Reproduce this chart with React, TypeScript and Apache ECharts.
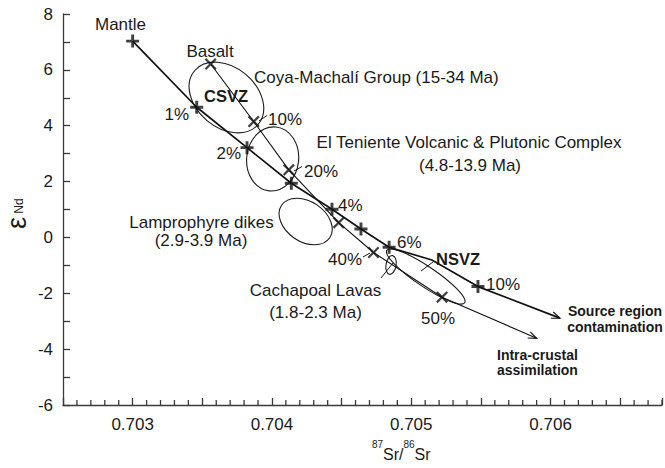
import React, { useEffect, useRef } from 'react';
import * as echarts from 'echarts';

const FONT = "'Liberation Sans', Arial, Helvetica, sans-serif";
const INK = '#1a1a1a';
const AXIS = '#3a3a3a';

// ---- data (87Sr/86Sr vs εNd) ----
// Source region contamination curve (Mantle -> ...)
const SOURCE_X = [0.703, 0.70346, 0.703821, 0.704139, 0.704431, 0.704639, 0.704841, 0.705148, 0.705479, 0.706067];
const SOURCE_Y = [7.03, 4.66, 3.215, 1.94, 1.01, 0.3, -0.35, -0.81, -1.76, -2.89];
const SOURCE_MARKED = [1, 1, 1, 1, 1, 1, 1, 0, 1, 0];

// Intra-crustal assimilation curve (Basalt -> ...)
const INTRA_X = [0.70356, 0.703869, 0.704121, 0.704479, 0.704729, 0.705221, 0.7059];
const INTRA_Y = [6.21, 4.15, 2.42, 0.53, -0.54, -2.14, -3.61];
const INTRA_MARKED = [1, 1, 1, 1, 1, 1, 0];

// Ellipses: centre (Sr, εNd), semi-axes in εNd units, tilt in degrees
const ELLIPSE_NAMES = ['Coya-Machalí', 'El Teniente', 'Lamprophyre', 'Cachapoal', 'NSVZ'];
const ELLIPSE_CX = [0.703673, 0.704005, 0.704242, 0.704855, 0.705104];
const ELLIPSE_CY = [5.01, 2.81, 0.57, -0.985, -1.4];
const ELLIPSE_RX = [1.49, 0.93, 1.04, 0.18, 1.68];
const ELLIPSE_RY = [1.08, 1.15, 0.72, 0.34, 0.36];
const ELLIPSE_TILT = [-40, -6, -34, -10, -34];

// Axis extents and ticks
const X_MIN = 0.7025;
const X_MAX = 0.7068;
const X_MAJOR_STEP = 0.0005;
const X_MINOR_STEP = 0.0001;
const Y_MIN = -6;
const Y_MAX = 8;

const PLUS = 'path://M-1.35,-6H1.35V-1.35H6V1.35H1.35V6H-1.35V1.35H-6V-1.35H-1.35Z';
const CROSS = 'path://M-6,-4.4L-4.4,-6L0,-1.6L4.4,-6L6,-4.4L1.6,0L6,4.4L4.4,6L0,1.6L-4.4,6L-6,4.4L-1.6,0Z';

function txt(text: string, x: number, y: number, align = 'left', opts: any = {}) {
  return {
    type: 'text',
    x,
    y,
    rotation: opts.rotation || 0,
    silent: true,
    style: {
      text,
      fill: INK,
      fontFamily: FONT,
      fontSize: opts.fontSize || 17,
      fontWeight: opts.bold ? 'bold' : 'normal',
      align,
      verticalAlign: 'middle',
    },
  };
}

function seg(x1: number, y1: number, x2: number, y2: number) {
  return {
    type: 'line',
    silent: true,
    shape: { x1, y1, x2, y2 },
    style: { stroke: INK, lineWidth: 1 },
  };
}

export default function App() {
  const ref = useRef<HTMLDivElement>(null);

  useEffect(() => {
    const chart = echarts.init(ref.current!, null, { renderer: 'svg' });

    const sourceLine = SOURCE_X.map((x, i) => [x, SOURCE_Y[i]]);
    const intraLine = INTRA_X.map((x, i) => [x, INTRA_Y[i]]);
    const sourceMarks = sourceLine.filter((_, i) => SOURCE_MARKED[i]);
    const intraMarks = intraLine.filter((_, i) => INTRA_MARKED[i]);
    const ellipses = ELLIPSE_NAMES.map((n, i) => [
      ELLIPSE_CX[i], ELLIPSE_CY[i], ELLIPSE_RX[i], ELLIPSE_RY[i], ELLIPSE_TILT[i],
    ]);
    const ns = sourceLine.length;
    const ni = intraLine.length;
    const arrows = [
      [...sourceLine[ns - 2], ...sourceLine[ns - 1]],
      [...intraLine[ni - 2], ...intraLine[ni - 1]],
    ];

    // minor tick positions along the x axis (between the 0.0005 ticks)
    const minorTicks: number[][] = [];
    const nMinor = Math.round((X_MAX - X_MIN) / X_MINOR_STEP);
    const perMajor = Math.round(X_MAJOR_STEP / X_MINOR_STEP);
    for (let i = 1; i <= nMinor; i++) {
      if (i % perMajor !== 0) {
        minorTicks.push([Math.round((X_MIN + i * X_MINOR_STEP) * 1e5) / 1e5, Y_MIN]);
      }
    }

    const axisLineStyle = { color: AXIS, width: 1.3 };

    const option: any = {
      animation: false,
      backgroundColor: '#ffffff',
      grid: { left: 63, right: 0, top: 14, bottom: 63 },
      xAxis: {
        type: 'value',
        min: X_MIN,
        max: X_MAX,
        interval: X_MAJOR_STEP,
        position: 'bottom',
        axisLine: { show: true, onZero: false, lineStyle: axisLineStyle },
        axisTick: { show: true, inside: true, length: 7, lineStyle: axisLineStyle },
        axisLabel: {
          fontSize: 17,
          fontFamily: FONT,
          color: INK,
          margin: 11,
          formatter: (v: number) => {
            const k = Math.round(v * 10000);
            return k % 10 === 0 ? (k / 10000).toFixed(3) : '';
          },
        },
        splitLine: { show: false },
      },
      yAxis: {
        type: 'value',
        min: Y_MIN,
        max: Y_MAX,
        interval: 1,
        axisLine: { show: true, onZero: false, lineStyle: axisLineStyle },
        axisTick: { show: true, inside: true, length: 7, lineStyle: axisLineStyle },
        axisLabel: {
          fontSize: 17,
          fontFamily: FONT,
          color: INK,
          margin: 10,
          formatter: (v: number) => {
            const k = Math.round(v);
            return k % 2 === 0 ? String(k) : '';
          },
        },
        splitLine: { show: false },
      },
      series: [
        {
          type: 'scatter',
          name: 'minor ticks',
          silent: true,
          clip: false,
          data: minorTicks,
          symbol: 'rect',
          symbolSize: [1.3, 5],
          symbolOffset: [0, -2.5],
          itemStyle: { color: AXIS, opacity: 1 },
          z: 6,
        },
        {
          type: 'custom',
          name: 'ellipses',
          silent: true,
          clip: false,
          data: ellipses,
          encode: { x: 0, y: 1 },
          renderItem: (params: any, api: any) => {
            const c = api.coord([api.value(0), api.value(1)]);
            const rx = Math.abs(api.size([0, api.value(2)])[1]);
            const ry = Math.abs(api.size([0, api.value(3)])[1]);
            return {
              type: 'ellipse',
              x: c[0],
              y: c[1],
              rotation: (api.value(4) * Math.PI) / 180,
              shape: { cx: 0, cy: 0, rx, ry },
              style: { fill: 'none', stroke: INK, lineWidth: 1.1 },
            };
          },
          z: 2,
        },
        {
          type: 'line',
          name: 'Source region contamination',
          data: sourceLine,
          symbol: 'none',
          silent: true,
          lineStyle: { color: '#111', width: 1.7 },
          z: 3,
        },
        {
          type: 'line',
          name: 'Intra-crustal assimilation',
          data: intraLine,
          symbol: 'none',
          silent: true,
          lineStyle: { color: '#111', width: 1.1 },
          z: 3,
        },
        {
          type: 'custom',
          name: 'arrows',
          silent: true,
          clip: false,
          data: arrows,
          encode: { x: [0, 2], y: [1, 3] },
          renderItem: (params: any, api: any) => {
            const p1 = api.coord([api.value(0), api.value(1)]);
            const p2 = api.coord([api.value(2), api.value(3)]);
            const a = Math.atan2(p2[1] - p1[1], p2[0] - p1[0]);
            const L = 9;
            const s = 0.38;
            return {
              type: 'polyline',
              shape: {
                points: [
                  [p2[0] - L * Math.cos(a - s), p2[1] - L * Math.sin(a - s)],
                  [p2[0], p2[1]],
                  [p2[0] - L * Math.cos(a + s), p2[1] - L * Math.sin(a + s)],
                ],
              },
              style: { fill: 'none', stroke: '#111', lineWidth: 1.2 },
            };
          },
          z: 4,
        },
        {
          type: 'scatter',
          name: 'source marks',
          data: sourceMarks,
          symbol: PLUS,
          symbolSize: 13,
          silent: true,
          itemStyle: { color: '#111' },
          z: 5,
        },
        {
          type: 'scatter',
          name: 'intra marks',
          data: intraMarks,
          symbol: CROSS,
          symbolSize: 12,
          silent: true,
          itemStyle: { color: '#111' },
          z: 5,
        },
      ],
      graphic: [
        txt('Mantle', 95, 24),
        txt('Basalt', 210, 51, 'center'),
        txt('Coya-Machalí Group (15-34 Ma)', 254, 77),
        txt('CSVZ', 226, 96, 'center', { bold: true, fontSize: 16.5 }),
        txt('1%', 189, 114.5, 'right'),
        txt('10%', 268, 119.5),
        txt('2%', 241, 153.5, 'right'),
        txt('20%', 304, 171.5),
        txt('El Teniente Volcanic & Plutonic Complex', 469, 142.5, 'center'),
        txt('(4.8-13.9 Ma)', 470, 165, 'center'),
        txt('4%', 338, 205.5),
        txt('Lamprophyre dikes', 201.5, 222, 'center'),
        txt('(2.9-3.9 Ma)', 201, 240.5, 'center'),
        txt('6%', 397, 242),
        txt('NSVZ', 458, 258.5, 'center', { bold: true, fontSize: 16.5 }),
        txt('40%', 362, 259.5, 'right'),
        txt('10%', 486, 284.5),
        txt('Cachapoal Lavas', 315.5, 290.5, 'center'),
        txt('(1.8-2.3 Ma)', 315.5, 312.5, 'center'),
        txt('50%', 438, 318.5, 'center'),
        txt('Source region', 615, 310.5, 'center', { bold: true, fontSize: 14 }),
        txt('contamination', 615, 327, 'center', { bold: true, fontSize: 14 }),
        txt('Intra-crustal', 497, 354.5, 'left', { bold: true, fontSize: 14 }),
        txt('assimilation', 497, 369.5, 'left', { bold: true, fontSize: 14 }),
        seg(259, 121, 267, 115.5),
        seg(294, 171, 302, 166.5),
        seg(363, 257, 370, 253),
        seg(421, 271, 433, 262),
        seg(393, 263, 381, 278),
        // x-axis title 87Sr/86Sr
        txt('87', 372, 444, 'left', { fontSize: 10 }),
        txt('Sr/', 383, 454, 'left', { fontSize: 16 }),
        txt('86', 403.4, 444, 'left', { fontSize: 10 }),
        txt('Sr', 414.5, 454, 'left', { fontSize: 16 }),
        // y-axis title εNd (rotated)
        txt('ε', 17, 223, 'center', { fontSize: 27, rotation: Math.PI / 2 }),
        txt('Nd', 19, 206, 'center', { fontSize: 12, rotation: Math.PI / 2 }),
      ],
    };

    chart.setOption(option);
    return () => chart.dispose();
  }, []);

  return (
    <div
      ref={ref}
      style={{ position: 'fixed', left: 0, top: 0, width: 665, height: 468, background: '#fff' }}
    />
  );
}
